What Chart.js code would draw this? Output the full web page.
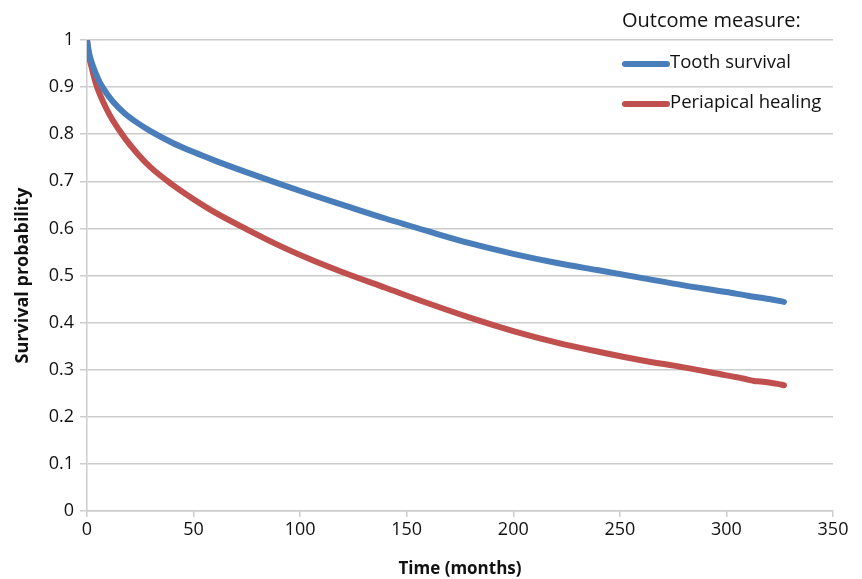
<!DOCTYPE html>
<html>
<head>
<meta charset="utf-8">
<script src="https://cdn.jsdelivr.net/npm/chart.js@4/dist/chart.umd.min.js"></script>
<style>
html,body{margin:0;padding:0;background:#fff;}
#wrap{width:862px;height:579px;position:relative;}
</style>
</head>
<body>
<div id="wrap"><canvas id="c" width="862" height="579"></canvas></div>
<script>
// Data
const toothTimes = [0, 1, 2, 4, 6, 9, 12, 18, 24, 30, 40, 50, 60, 75, 90, 105, 120, 140, 160, 180, 200, 220, 240, 260, 280, 300, 310, 320, 327];
const toothSurvival = [1.0, 0.972, 0.955, 0.93, 0.91, 0.888, 0.87, 0.843, 0.823, 0.806, 0.782, 0.762, 0.744, 0.719, 0.695, 0.672, 0.650, 0.621, 0.594, 0.568, 0.546, 0.527, 0.511, 0.495, 0.479, 0.465, 0.457, 0.450, 0.444];
const healTimes = [0, 1, 2, 4, 6, 9, 12, 18, 24, 30, 40, 50, 60, 75, 90, 105, 120, 140, 160, 180, 200, 220, 240, 260, 280, 300, 305, 310, 313, 316, 320, 324, 327];
const periapicalHealing = [1.0, 0.965, 0.945, 0.91, 0.885, 0.855, 0.83, 0.79, 0.757, 0.729, 0.693, 0.662, 0.634, 0.598, 0.564, 0.534, 0.507, 0.474, 0.441, 0.410, 0.382, 0.358, 0.338, 0.320, 0.305, 0.288, 0.284, 0.279, 0.276, 0.275, 0.273, 0.270, 0.267];
const xTicks = [0, 50, 100, 150, 200, 250, 300, 350];
const yTicks = [0, 0.1, 0.2, 0.3, 0.4, 0.5, 0.6, 0.7, 0.8, 0.9, 1];
const seriesNames = ['Tooth survival', 'Periapical healing'];
const legendTitle = 'Outcome measure:';
const xTitle = 'Time (months)';
const yTitle = 'Survival probability';

const BLUE = '#4a7ebb';
const RED = '#c0504d';
const GRID = '#cccccc';
const FONT = "'Open Sans', 'Liberation Sans', sans-serif";

const toXY = (xs, ys) => xs.map((x, i) => ({x: x, y: ys[i]}));

const legendPlugin = {
  id: 'customLegend',
  afterDraw(chart) {
    const ctx = chart.ctx;
    ctx.save();
    ctx.fillStyle = '#111';
    ctx.textBaseline = 'middle';
    ctx.textAlign = 'left';
    ctx.font = "20px " + FONT;
    ctx.fillText(legendTitle, 622, 21);
    ctx.font = "18.5px " + FONT;
    const items = chart.data.datasets;
    const ys = [64, 104];
    items.forEach((ds, i) => {
      ctx.strokeStyle = ds.borderColor;
      ctx.lineWidth = 6;
      ctx.lineCap = 'round';
      ctx.beginPath();
      ctx.moveTo(625, ys[i]);
      ctx.lineTo(667, ys[i]);
      ctx.stroke();
      ctx.fillStyle = '#111';
      ctx.fillText(ds.label, 670, ys[i] - 1);
    });
    ctx.restore();
  }
};

new Chart(document.getElementById('c'), {
  type: 'line',
  data: {
    datasets: [
      {label: seriesNames[0], data: toXY(toothTimes, toothSurvival), borderColor: BLUE, backgroundColor: BLUE, borderWidth: 6, pointRadius: 0, cubicInterpolationMode: 'monotone', borderCapStyle: 'round', borderJoinStyle: 'round', fill: false},
      {label: seriesNames[1], data: toXY(healTimes, periapicalHealing), borderColor: RED, backgroundColor: RED, borderWidth: 6, pointRadius: 0, cubicInterpolationMode: 'monotone', borderCapStyle: 'round', borderJoinStyle: 'round', fill: false}
    ]
  },
  options: {
    responsive: false,
    animation: false,
    devicePixelRatio: 1,
    layout: {padding: {top: 40, right: 29, left: 0, bottom: 0}},
    plugins: {legend: {display: false}, tooltip: {enabled: false}},
    scales: {
      x: {
        type: 'linear', min: 0, max: 350,
        afterBuildTicks: (s) => { s.ticks = xTicks.map(v => ({value: v})); },
        afterFit: (s) => { s.height = 68; },
        grid: {drawOnChartArea: false, drawTicks: true, tickLength: 6, color: GRID, lineWidth: 1.5},
        border: {color: GRID, width: 1.5},
        ticks: {color: '#111', font: {family: FONT, size: 18}, padding: 2, maxRotation: 0},
        title: {display: true, text: xTitle, color: '#111', font: {family: FONT, size: 17, weight: 'bold'}, padding: {top: 3, bottom: 0}}
      },
      y: {
        type: 'linear', min: 0, max: 1,
        afterBuildTicks: (s) => { s.ticks = yTicks.map(v => ({value: v})); },
        afterFit: (s) => { s.width = 87; },
        grid: {color: GRID, lineWidth: 1.5, drawTicks: true, tickLength: 7},
        border: {color: GRID, width: 1.5},
        ticks: {color: '#111', font: {family: FONT, size: 18}, padding: 6, callback: (v) => String(Number(v.toFixed(1)))},
        title: {display: true, text: yTitle, color: '#111', font: {family: FONT, size: 18, weight: 'bold'}, padding: {top: 12, bottom: 0}}
      }
    }
  },
  plugins: [legendPlugin]
});
</script>
</body>
</html>
